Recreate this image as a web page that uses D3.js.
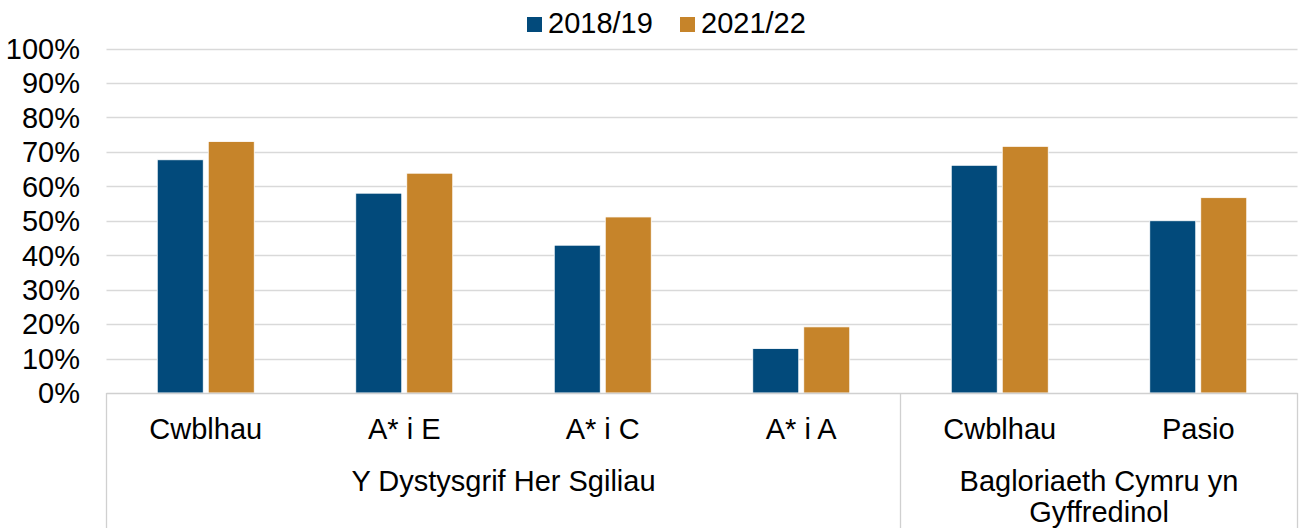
<!DOCTYPE html>
<html>
<head>
<meta charset="utf-8">
<script src="https://cdn.jsdelivr.net/npm/d3@7"></script>
<style>
  html, body { margin: 0; padding: 0; background: #fff; }
  svg { display: block; }
  text { font-family: "Liberation Sans", Arial, sans-serif; fill: #000; }
</style>
</head>
<body>
<svg id="chart" width="1299" height="528"></svg>
<script>
// ---- data ----
const categories = ["Cwblhau", "A* i E", "A* i C", "A* i A", "Cwblhau", "Pasio"];
const series = ["2018/19", "2021/22"];
const values2018 = [67.7, 58.0, 42.9, 12.9, 66.1, 50.0];
const values2021 = [73.0, 63.8, 51.1, 19.2, 71.6, 56.7];
const groupNames = ["Y Dystysgrif Her Sgiliau", "Bagloriaeth Cymru yn Gyffredinol"];
const groupSizes = [4, 2];
const groupLines = [["Y Dystysgrif Her Sgiliau"], ["Bagloriaeth Cymru yn", "Gyffredinol"]];
const yTicks = [0, 10, 20, 30, 40, 50, 60, 70, 80, 90, 100];
const colors = ["#024a7b", "#c6842a"];

// ---- layout ----
const svg = d3.select("#chart");
const plotL = 106.5, plotR = 1297.5, plotT = 48.5, plotB = 393;
const fontSize = 29;

const y = d3.scaleLinear().domain([0, 100]).range([plotB, plotT]);
const idx = categories.map((d, i) => i);
const x0 = d3.scaleBand().domain(idx).range([plotL, plotR]).paddingInner(0).paddingOuter(0);
const x1 = d3.scaleBand().domain(series)
  .range([x0.bandwidth() / 2 - 48.5, x0.bandwidth() / 2 + 48.5])
  .paddingInner(5 / 51).paddingOuter(0);

// gridlines
svg.append("g").selectAll("line").data(yTicks.filter(t => t > 0)).join("line")
  .attr("x1", plotL).attr("x2", plotR)
  .attr("y1", d => Math.round(y(d)) + 0.5).attr("y2", d => Math.round(y(d)) + 0.5)
  .attr("stroke", "#d9d9d9").attr("stroke-width", 1.3);

// y axis labels
const yAxis = d3.axisLeft(y).tickValues(yTicks).tickSize(0).tickPadding(0).tickFormat(d => d + "%");
const yg = svg.append("g").attr("transform", `translate(80,0)`).call(yAxis);
yg.select(".domain").remove();
yg.selectAll("text").style("font-size", fontSize + "px")
  .style("font-family", '"Liberation Sans", Arial, sans-serif').attr("fill", "#000").attr("dy", "0.34em");

// bars
const seriesValues = [values2018, values2021];
series.forEach((s, si) => {
  svg.append("g").selectAll("rect").data(idx).join("rect")
    .attr("x", i => x0(i) + x1(s))
    .attr("width", x1.bandwidth())
    .attr("y", i => y(seriesValues[si][i]))
    .attr("height", i => y(0) - y(seriesValues[si][i]))
    .attr("fill", colors[si])
    .attr("stroke", "#ffffff").attr("stroke-width", 0.8);
});

// baseline & group separators
svg.append("line").attr("x1", plotL).attr("x2", plotR).attr("y1", plotB + 0.5).attr("y2", plotB + 0.5)
  .attr("stroke", "#d0d0d0").attr("stroke-width", 1.3);
let acc = 0;
const sepIdx = [0];
groupSizes.forEach(n => { acc += n; sepIdx.push(acc); });
svg.append("g").selectAll("line").data(sepIdx).join("line")
  .attr("x1", k => (k < categories.length ? x0(k) : plotR))
  .attr("x2", k => (k < categories.length ? x0(k) : plotR))
  .attr("y1", plotB).attr("y2", 528)
  .attr("stroke", "#d0d0d0").attr("stroke-width", 1.3);

// category labels
svg.append("g").selectAll("text").data(idx).join("text")
  .attr("x", i => x0(i) + x0.bandwidth() / 2)
  .attr("y", 439)
  .attr("text-anchor", "middle")
  .style("font-size", fontSize + "px")
  .text(i => categories[i]);

// group labels
let start = 0;
groupNames.forEach((g, gi) => {
  const a = x0(start);
  const endIdx = start + groupSizes[gi];
  const b = endIdx < categories.length ? x0(endIdx) : plotR;
  const t = svg.append("text").attr("x", (a + b) / 2).attr("y", 491)
    .attr("text-anchor", "middle").style("font-size", fontSize + "px");
  groupLines[gi].forEach((ln, li) => {
    t.append("tspan").attr("x", (a + b) / 2).attr("y", 491 + li * 31).text(ln);
  });
  start = endIdx;
});

// legend
const legendX = [527, 680];
const lg = svg.append("g");
series.forEach((s, si) => {
  lg.append("rect").attr("x", legendX[si]).attr("y", 17).attr("width", 15).attr("height", 15).attr("fill", colors[si]);
  lg.append("text").attr("x", legendX[si] + 21).attr("y", 33).style("font-size", fontSize + "px").text(s);
});
</script>
</body>
</html>
